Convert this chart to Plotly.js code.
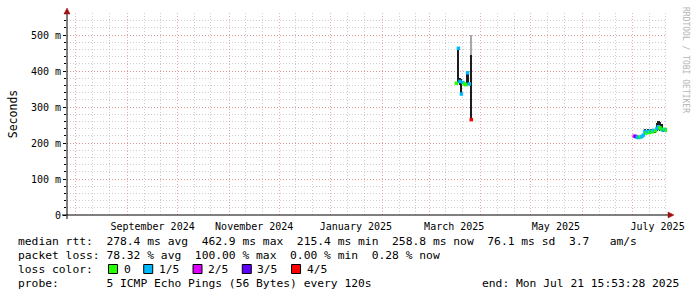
<!DOCTYPE html>
<html>
<head>
<meta charset="utf-8">
<script src="https://cdn.plot.ly/plotly-3.0.1.min.js"></script>
<style>html,body{margin:0;padding:0;background:#fff;}#chart{width:697px;height:297px;}</style>
</head>
<body>
<div id="chart"></div>
<script>
// ---- data ----
const xStart = '2024-07-26 15:53:28';
const xEnd = '2025-07-21 15:53:28';

const sampleTimes = [
  '2025-03-17 07:00', '2025-03-18 12:00', '2025-03-19 10:00', '2025-03-20 07:00',
  '2025-03-21 05:00', '2025-03-22 03:00', '2025-03-23 00:00', '2025-03-24 00:00',
  '2025-03-25 00:00', '2025-03-26 05:00',
  '2025-07-02 01:00', '2025-07-02 23:00', '2025-07-03 21:00', '2025-07-04 19:00',
  '2025-07-05 16:00', '2025-07-06 14:00', '2025-07-07 12:00', '2025-07-08 09:00',
  '2025-07-09 07:00', '2025-07-10 05:00', '2025-07-11 03:00', '2025-07-12 00:00',
  '2025-07-12 22:00', '2025-07-13 20:00', '2025-07-14 17:00', '2025-07-15 15:00',
  '2025-07-16 13:00', '2025-07-17 11:00', '2025-07-18 08:00', '2025-07-19 06:00',
  '2025-07-20 04:00', '2025-07-21 01:00', '2025-07-21 12:00'
];
const medianRtt = [
  0.366, 0.463, 0.371, 0.336, 0.368, 0.364, 0.362, 0.395, 0.364, 0.265,
  0.219, 0.218, 0.216, 0.215, 0.217, 0.218, 0.222, 0.232, 0.228, 0.232,
  0.229, 0.233, 0.231, 0.235, 0.234, 0.240, 0.245, 0.242, 0.238, 0.236,
  0.238, 0.236, 0.235
];
const lossIndex = [
  0, 1, 1, 1, 1, 0, 0, 1, 1, 4,
  2, 3, 1, 1, 0, 1, 1, 1, 0, 1,
  0, 1, 0, 1, 0, 1, 1, 0, 0, 1,
  0, 1, 0
];
const smokeLow = [
  0.362, 0.367, 0.360, 0.333, 0.363, 0.360, 0.359, 0.361, 0.360, 0.265,
  0.217, 0.216, 0.214, 0.213, 0.215, 0.216, 0.219, 0.225, 0.224, 0.226,
  0.225, 0.228, 0.227, 0.228, 0.229, 0.232, 0.235, 0.233, 0.232, 0.231,
  0.233, 0.232, 0.231
];
const smokeHigh = [
  0.370, 0.465, 0.380, 0.378, 0.372, 0.368, 0.366, 0.398, 0.368, 0.444,
  0.222, 0.221, 0.219, 0.218, 0.220, 0.221, 0.226, 0.238, 0.233, 0.240,
  0.234, 0.238, 0.236, 0.240, 0.239, 0.255, 0.262, 0.258, 0.252, 0.242,
  0.243, 0.241, 0.239
];
const outerSmokeTimes = ['2025-03-26 05:00'];
const outerSmokeLow = [0.444];
const outerSmokeHigh = [0.500];

const lossLabels = ['0', '1/5', '2/5', '3/5', '4/5'];
const lossColors = ['#26ff00', '#00b8ff', '#dd00ff', '#5e00ff', '#ff0000'];

const yTickVals = [0, 0.1, 0.2, 0.3, 0.4, 0.5];
const yTickText = ['0', '100 m', '200 m', '300 m', '400 m', '500 m'];
const monthLabelDates = ['2024-09-16', '2024-11-16', '2025-01-16', '2025-03-16', '2025-05-16', '2025-07-16'];
const monthLabels = ['September 2024', 'November 2024', 'January 2025', 'March 2025', 'May 2025', 'July 2025'];

const legendLine1 = 'median rtt:  278.4 ms avg  462.9 ms max  215.4 ms min  258.8 ms now  76.1 ms sd  3.7   am/s';
const legendLine2 = 'packet loss: 78.32 % avg  100.00 % max  0.00 % min  0.28 % now';
const legendLine3Head = 'loss color:';
const legendLine4 = 'probe:       5 ICMP Echo Pings (56 Bytes) every 120s';
const endText = 'end: Mon Jul 21 15:53:28 2025';
const watermark = 'RRDTOOL / TOBI OETIKER';

// ---- grid positions ----
const monthStarts = [], tenDays = [];
for (let i = 0; i < 12; i++) {
  const y = 2024 + Math.floor((7 + i) / 12);
  const m = ((7 + i) % 12) + 1;
  const mm = String(m).padStart(2, '0');
  monthStarts.push(`${y}-${mm}-01`);
  tenDays.push(`${y}-${mm}-11`, `${y}-${mm}-21`);
}
tenDays.unshift('2024-07-11', '2024-07-21');

// ---- pixel helpers for page furniture ----
const L = 67, R = 667, T = 13, B = 215;
const px = v => (v - L) / (R - L);
const py = v => (B - v) / (B - T);
const nb = s => s.replace(/ /g, '\u00a0');
const mono = 'DejaVu Sans Mono';
const legFont = 11.3, legX = 16, slotW = 7.04;

const traces = [
  {
    type: 'bar', x: outerSmokeTimes, base: outerSmokeLow,
    y: outerSmokeHigh.map((v, i) => v - outerSmokeLow[i]),
    width: 1.1 * 86400000, marker: {color: '#a8a8a8', line: {width: 0}},
    hoverinfo: 'skip', showlegend: false
  },
  {
    type: 'bar', x: sampleTimes, base: smokeLow,
    y: smokeHigh.map((v, i) => v - smokeLow[i]),
    width: 1.3 * 86400000, marker: {color: '#1c1c1c', line: {width: 0}},
    hoverinfo: 'skip', showlegend: false
  },
  {
    type: 'scatter', mode: 'markers', x: sampleTimes, y: medianRtt,
    marker: {symbol: 'square', size: 3.5, color: lossIndex.map(i => lossColors[i]), line: {width: 0}},
    showlegend: false
  },
  {type: 'scatter', mode: 'markers', x: [], y: [], xaxis: 'x2', showlegend: false}
];

const annotations = [
  {text: nb(legendLine1), x: px(legX), y: py(241)},
  {text: nb(legendLine2), x: px(legX), y: py(255)},
  {text: nb(legendLine3Head), x: px(legX), y: py(269)},
  {text: nb(legendLine4), x: px(legX), y: py(283)},
  {text: nb(endText), x: px(681), y: py(283), xanchor: 'right'}
];
const shapes = [];
let pos = 13;
lossLabels.forEach((lab, i) => {
  const bx = legX + pos * slotW + 1;
  shapes.push({type: 'rect', xref: 'paper', yref: 'paper', x0: px(bx), x1: px(bx + 9), y0: py(273.5), y1: py(264.5),
    fillcolor: lossColors[i], line: {color: '#000', width: 1}, layer: 'above'});
  annotations.push({text: lab, x: px(legX + (pos + 2) * slotW), y: py(269)});
  pos += 2 + lab.length + 2;
});
annotations.forEach(a => {
  Object.assign(a, {xref: 'paper', yref: 'paper', showarrow: false, yanchor: 'middle',
    font: {family: mono, size: legFont, color: '#000'}});
  if (!a.xanchor) a.xanchor = 'left';
});
annotations.push({text: watermark, xref: 'paper', yref: 'paper', x: px(686), y: py(60), showarrow: false,
  textangle: 90, xanchor: 'center', yanchor: 'middle', font: {family: mono, size: 8, color: '#b4b4b4'}});

// axis lines and arrows
shapes.push({type: 'line', xref: 'paper', yref: 'paper', x0: px(62), x1: px(668), y0: 0, y1: 0, line: {color: '#000', width: 1}, layer: 'above'});
shapes.push({type: 'line', xref: 'paper', yref: 'paper', x0: 0, x1: 0, y0: py(219), y1: py(12), line: {color: '#000', width: 1}, layer: 'above'});
shapes.push({type: 'path', xref: 'paper', yref: 'paper',
  path: `M ${px(668)},${py(212)} L ${px(674)},${py(215)} L ${px(668)},${py(218)} Z`,
  fillcolor: '#a01010', line: {color: '#a01010', width: 0.5}, layer: 'above'});
shapes.push({type: 'path', xref: 'paper', yref: 'paper',
  path: `M ${px(64)},${py(14)} L ${px(67)},${py(8)} L ${px(70)},${py(14)} Z`,
  fillcolor: '#a01010', line: {color: '#a01010', width: 0.5}, layer: 'above'});

const majorGrid = 'rgba(230,110,110,0.6)';
const minorGrid = 'rgba(185,185,185,0.7)';
const dotDash = '1px,2px';

const layout = {
  width: 697, height: 297,
  margin: {l: L, r: 697 - R, t: T, b: 297 - B, pad: 0},
  paper_bgcolor: '#fff', plot_bgcolor: '#fff',
  barmode: 'overlay', bargap: 0,
  showlegend: false,
  xaxis: {
    type: 'date', range: [xStart, xEnd], fixedrange: true,
    tickmode: 'array', tickvals: monthStarts, showticklabels: false, ticks: '',
    showgrid: true, gridcolor: majorGrid, griddash: dotDash, gridwidth: 1,
    zeroline: false, showline: false,
    minor: {tickmode: 'array', tickvals: tenDays, showgrid: true, gridcolor: minorGrid, griddash: dotDash, gridwidth: 1, ticks: ''}
  },
  xaxis2: {
    type: 'date', range: [xStart, xEnd], overlaying: 'x', anchor: 'y', side: 'bottom',
    tickmode: 'array', tickvals: monthLabelDates, ticktext: monthLabels,
    showgrid: false, zeroline: false, showline: false, ticks: '',
    tickfont: {family: mono, size: 10, color: '#000'}, ticklabelstandoff: 4
  },
  yaxis: {
    range: [0, 0.5611], fixedrange: true,
    tickmode: 'array', tickvals: yTickVals, ticktext: yTickText,
    tickfont: {family: mono, size: 10, color: '#000'},
    ticks: 'outside', ticklen: 3, tickcolor: '#000', tickwidth: 1,
    showgrid: true, gridcolor: majorGrid, griddash: dotDash, gridwidth: 1,
    zeroline: false, showline: false, ticklabelstandoff: 0,
    minor: {dtick: 0.02, tick0: 0, showgrid: true, gridcolor: minorGrid, griddash: dotDash, gridwidth: 1,
      ticks: 'outside', ticklen: 2, tickcolor: '#000'},
    title: {text: 'Seconds', font: {family: mono, size: 11.5, color: '#000'}, standoff: 10}
  },
  annotations: annotations,
  shapes: shapes
};

Plotly.newPlot('chart', traces, layout, {staticPlot: true, displayModeBar: false});
</script>
</body>
</html>
